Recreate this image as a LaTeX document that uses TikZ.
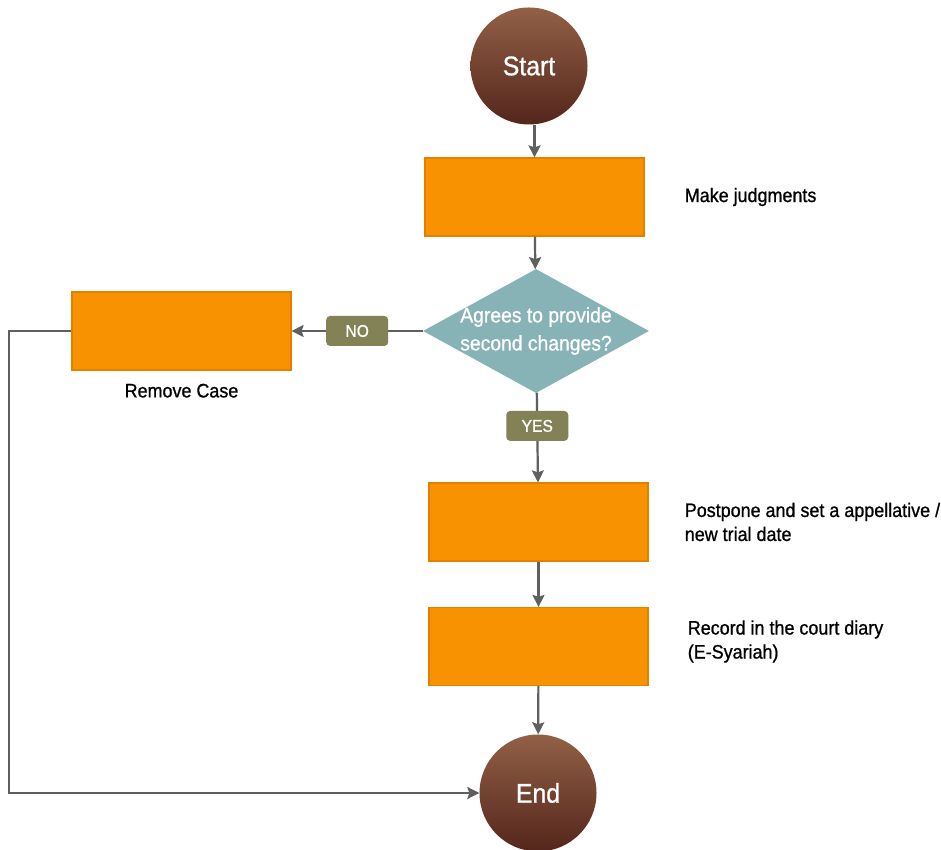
\documentclass[tikz,border=0pt]{standalone}
\usepackage{fontspec}
\setmainfont{Liberation Sans}[FakeStretch=0.92,FakeBold=0.9]
\usetikzlibrary{shapes.geometric,arrows.meta,positioning}
\begin{document}
\begin{tikzpicture}[x=1pt,y=1pt,
  terminal/.style={circle,minimum size=117pt,inner sep=0pt,top color=termTop,bottom color=termBottom,text=white,font=\fontsize{27}{32}\selectfont},
  stepbox/.style={rectangle,minimum width=219pt,minimum height=78pt,inner sep=0pt,fill=boxFill,draw=boxEdge,line width=1.2pt},
  decision/.style={diamond,minimum width=226pt,minimum height=124pt,inner sep=0pt,fill=askFill},
  tag/.style={rectangle,rounded corners=4pt,fill=tagFill,text=white,minimum width=62pt,minimum height=30pt,inner sep=0pt,font=\fontsize{17}{20}\selectfont},
  note/.style={align=left,inner sep=0pt,font=\fontsize{19.5}{24}\selectfont},
  flow/.style={draw=lineColor,line width=2.2pt,-{Stealth[length=12pt,width=12pt,inset=2pt]}}]
\definecolor{fillColor}{RGB}{255,255,255}
\definecolor{termTop}{RGB}{146,96,70}
\definecolor{termBottom}{RGB}{84,38,28}
\definecolor{boxFill}{RGB}{248,146,0}
\definecolor{boxEdge}{RGB}{228,128,0}
\definecolor{askFill}{RGB}{135,178,182}
\definecolor{tagFill}{RGB}{130,130,86}
\definecolor{lineColor}{RGB}{95,95,95}
\path[use as bounding box,fill=fillColor] (0,0) rectangle (941,850);

\node[terminal] (start) at (529,784) {Start};
\node[stepbox] (judge) at (534.5,653) {};
\node[decision] (ask) at (536,519) {};
\node[text=white,align=center,inner sep=0pt,font=\fontsize{21}{28}\selectfont] (asktext) at (ask) {Agrees to provide\\second changes?};
\node[stepbox] (remove) at (181.5,519) {};
\node[stepbox] (postpone) at (538.5,328) {};
\node[stepbox] (record) at (538.5,203.5) {};
\node[terminal] (done) at (538,57) {End};
\coordinate (loop) at (9,0);

\node[note,right=40pt of judge] (judgenote) {Make judgments};
\node[note,right=36pt of postpone] (postponenote) {Postpone and set a appellative /\\new trial date};
\node[note,right=39pt of record,yshift=5pt] (recordnote) {Record in the court diary\\(E-Syariah)};
\node[note,below=13pt of remove] (removenote) {Remove Case};

\draw[flow] (start.south -| judge) -- (judge);
\draw[flow] (judge) -- (ask);
\draw[flow] (ask) -- node[tag] (no) {NO} (remove);
\draw[flow] (ask) -- node[tag,pos=0.37] (yes) {YES} (postpone);
\draw[flow] (postpone) -- (record);
\draw[flow] (record) -- (done);
\draw[flow] (remove.west) -- (remove.west -| loop) |- (done.west);
\end{tikzpicture}
\end{document}
